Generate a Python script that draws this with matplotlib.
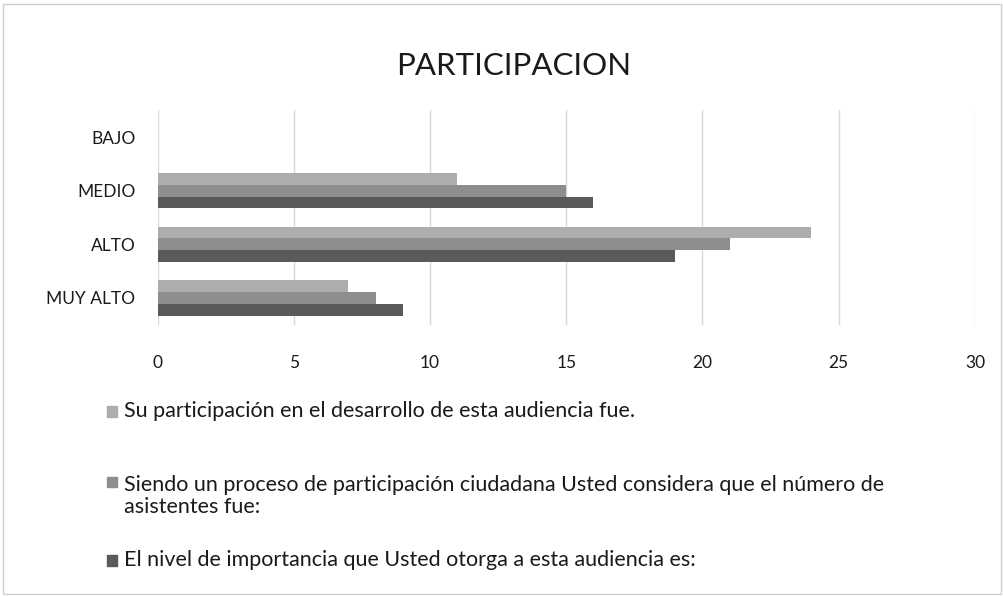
import matplotlib.pyplot as plt
from matplotlib.patches import Rectangle
import numpy as np

plt.rcParams['font.family'] = ['Lato', 'DejaVu Sans']

categories = ["BAJO", "MEDIO", "ALTO", "MUY ALTO"]
participacion = [0, 11, 24, 7]
asistentes = [0, 15, 21, 8]
importancia = [0, 16, 19, 9]
series_labels = [
    "Su participación en el desarrollo de esta audiencia fue.",
    "Siendo un proceso de participación ciudadana Usted considera que el número de\nasistentes fue:",
    "El nivel de importancia que Usted otorga a esta audiencia es:",
]
colors = ['#adadad', '#8e8e8e', '#5a5a5a']

fig = plt.figure(figsize=(10.04, 5.96), dpi=100)
ax = fig.add_axes([0.157, 0.455, 0.814, 0.36])

y = np.arange(len(categories))
h = 0.22
for i, vals in enumerate([participacion, asistentes, importancia]):
    ax.barh(y + (i - 1) * h, vals, height=h, color=colors[i])

ax.set_xlim(0, 30)
ax.set_ylim(3.5, -0.5)
ax.set_yticks(y)
ax.set_yticklabels(categories)
ax.set_xticks(range(0, 31, 5))
ax.tick_params(axis='both', length=0, labelsize=12.5, colors='#1a1a1a')
ax.tick_params(axis='x', pad=22)
ax.tick_params(axis='y', pad=16)
ax.grid(axis='x', color='#d9d9d9', linewidth=1)
ax.set_axisbelow(True)
for s in ax.spines.values():
    s.set_visible(False)

fig.text(0.512, 0.89, "PARTICIPACION", ha='center', va='center', fontsize=22.5, color='#1a1a1a')

# legend entries drawn by hand (uneven spacing as in the original)
legend_y = [0.31, 0.168, 0.06]
for i, (lab, ly) in enumerate(zip(series_labels, legend_y)):
    first_line_y = ly if i != 1 else ly + 0.024
    fig.patches.append(Rectangle((0.107, first_line_y - 0.009), 0.010, 0.017,
                                 transform=fig.transFigure, color=colors[i]))
    fig.text(0.124, ly, lab, ha='left', va='center', fontsize=15.5,
             color='#1a1a1a', linespacing=1.15)

fig.patches.append(Rectangle((0.003, 0.004), 0.994, 0.99, transform=fig.transFigure,
                             fill=False, edgecolor='#d0d0d0', linewidth=1))

fig.savefig("out.png", dpi=100)
